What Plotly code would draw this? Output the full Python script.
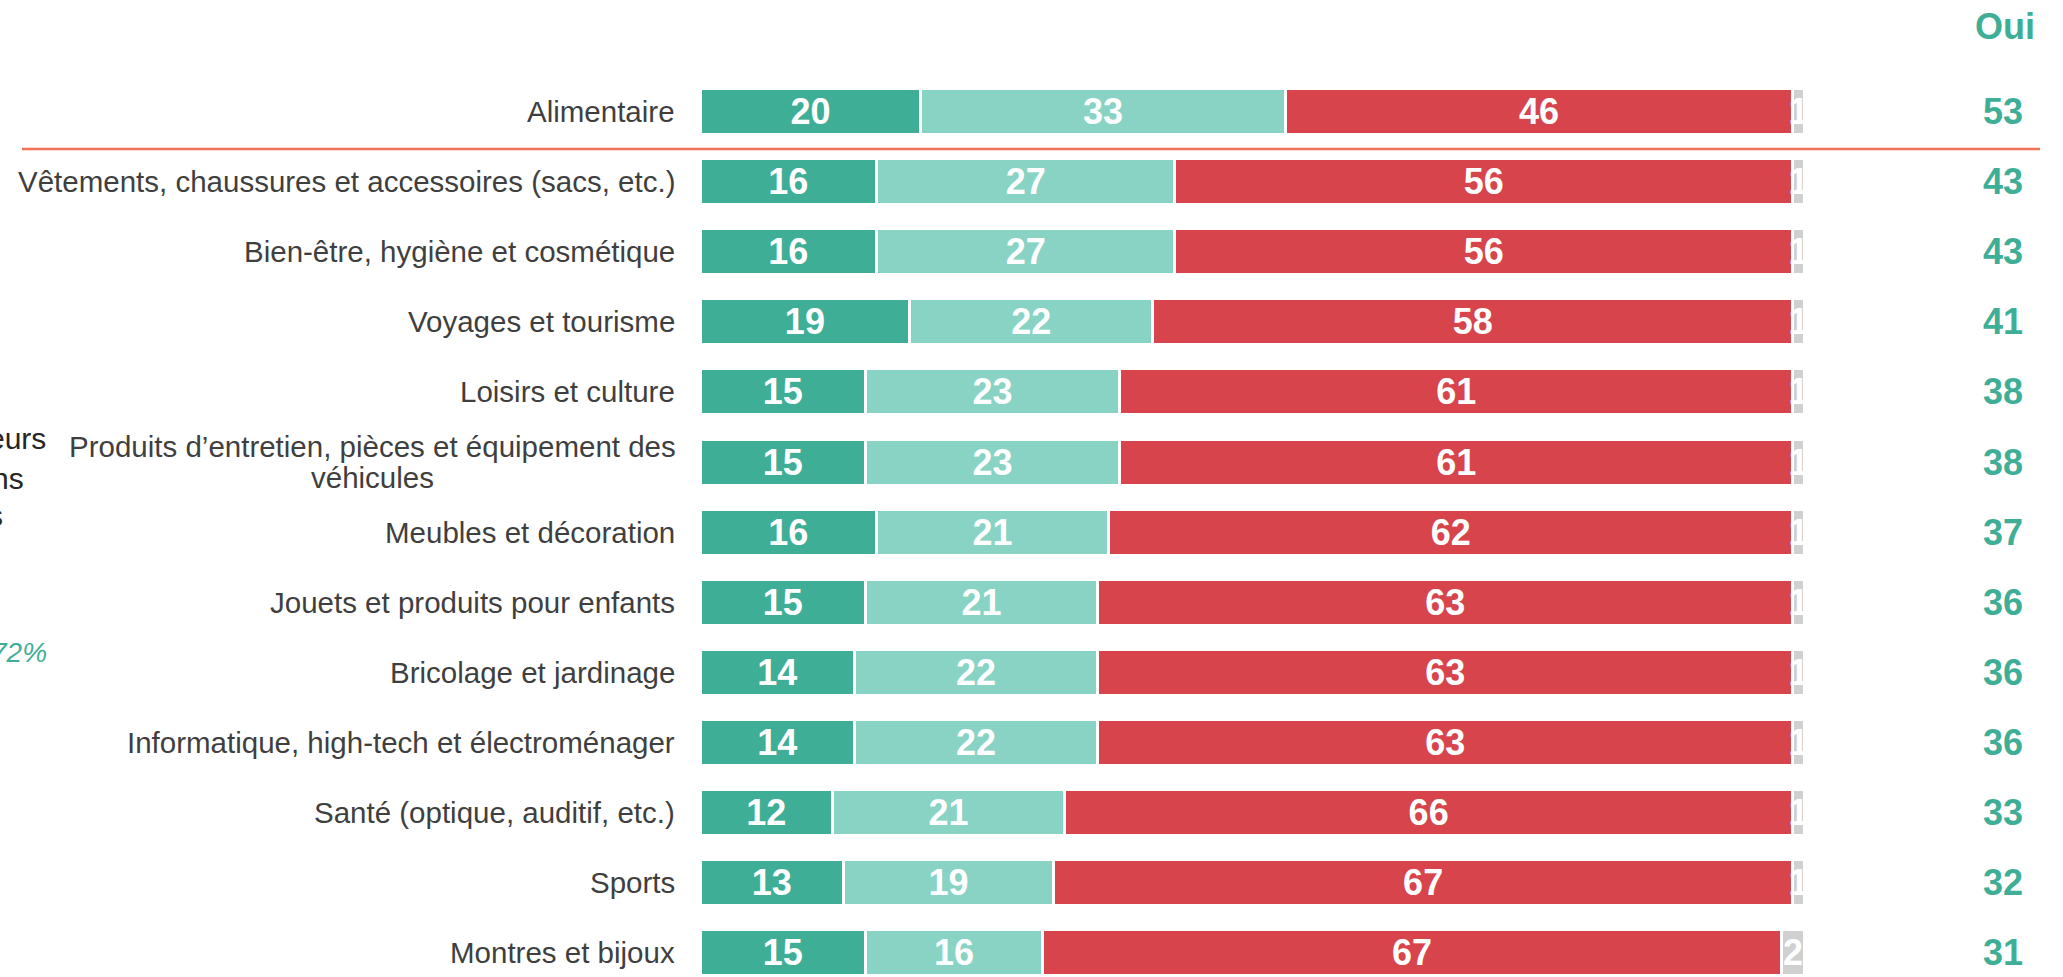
import plotly.graph_objects as go

categories = [
    "Alimentaire",
    "Vêtements, chaussures et accessoires (sacs, etc.)",
    "Bien-être, hygiène et cosmétique",
    "Voyages et tourisme",
    "Loisirs et culture",
    "Produits d’entretien, pièces et équipement des<br>véhicules",
    "Meubles et décoration",
    "Jouets et produits pour enfants",
    "Bricolage et jardinage",
    "Informatique, high-tech et électroménager",
    "Santé (optique, auditif, etc.)",
    "Sports",
    "Montres et bijoux",
]
serie_1 = [20, 16, 16, 19, 15, 15, 16, 15, 14, 14, 12, 13, 15]
serie_2 = [33, 27, 27, 22, 23, 23, 21, 21, 22, 22, 21, 19, 16]
serie_3 = [46, 56, 56, 58, 61, 61, 62, 63, 63, 63, 66, 67, 67]
serie_4 = [1, 1, 1, 1, 1, 1, 1, 1, 1, 1, 1, 1, 2]
oui = [53, 43, 43, 41, 38, 38, 37, 36, 36, 36, 33, 32, 31]
oui_header = "Oui"
left_fragments = ["eurs", "ns", "s"]
left_pct = "72%"

colors = ["#3FAE96", "#88D3C4", "#D7444B", "#D0D0D0"]
FONT = "Liberation Sans, Arial, sans-serif"

W, H = 2063, 977
L, PW = 700, 1104
ROW0, STEP = 111.5, 70.1

def px_to_paper_x(px):
    return (px - L) / PW

def px_to_paper_y(py):
    return 1 - py / H

ypos = list(range(len(categories)))

fig = go.Figure()
for vals, col in zip([serie_1, serie_2, serie_3, serie_4], colors):
    fig.add_trace(go.Bar(
        y=ypos, x=vals, orientation="h",
        marker=dict(color=col, line=dict(color="white", width=3)),
        text=vals, textposition="inside", insidetextanchor="middle",
        constraintext="none", textangle=0,
        textfont=dict(family=FONT, size=36, color="white", weight="bold"),
        hoverinfo="skip", showlegend=False,
    ))

annotations = []
LINE_GAP = 31.5
for i, cat in enumerate(categories):
    lines = cat.split("<br>")
    n = len(lines)
    for k, line in enumerate(lines):
        off = (k - (n - 1) / 2) * LINE_GAP
        annotations.append(dict(
            xref="paper", yref="y", x=0, y=i + off / STEP, xshift=-23,
            xanchor="right" if n == 1 else "center", yanchor="middle", align="center",
            text=line, showarrow=False,
            font=dict(family=FONT, size=29.5, color="#3F3F3F"),
        ))
    annotations.append(dict(
        xref="paper", yref="y", x=px_to_paper_x(2003), y=i,
        xanchor="center", yanchor="middle",
        text=str(oui[i]), showarrow=False,
        font=dict(family=FONT, size=36, color="#3FAE96", weight="bold"),
    ))

# centre the wrapped label lines on the first line's horizontal centre
for a in annotations:
    if a["xanchor"] == "center" and a["xref"] == "paper" and a["x"] == 0:
        a["x"] = px_to_paper_x(372)
        a["xshift"] = 0

annotations.append(dict(
    xref="paper", yref="paper", x=px_to_paper_x(2005), y=px_to_paper_y(27),
    xanchor="center", yanchor="middle", text=oui_header, showarrow=False,
    font=dict(family=FONT, size=36, color="#3FAE96", weight="bold"),
))

for txt, xr, yc in zip(left_fragments, [48, 26, 5], [438, 478, 515]):
    annotations.append(dict(
        xref="paper", yref="paper", x=px_to_paper_x(xr), y=px_to_paper_y(yc),
        xanchor="right", yanchor="middle", text=txt, showarrow=False,
        font=dict(family=FONT, size=30, color="#262626"),
    ))
annotations.append(dict(
    xref="paper", yref="paper", x=px_to_paper_x(49), y=px_to_paper_y(652),
    xanchor="right", yanchor="middle", text=f"<i>{left_pct}</i>", showarrow=False,
    font=dict(family=FONT, size=28, color="#3FAE96"),
))

shapes = [dict(
    type="line", xref="paper", yref="y",
    x0=px_to_paper_x(22), x1=px_to_paper_x(2040),
    y0=(149 - ROW0) / STEP, y1=(149 - ROW0) / STEP,
    line=dict(color="#F07256", width=2.5),
)]

y_top = -ROW0 / STEP
y_bot = (H - ROW0) / STEP

fig.update_layout(
    width=W, height=H,
    barmode="stack", bargap=1 - 46 / STEP,
    margin=dict(l=L, r=W - L - PW, t=0, b=0, pad=0),
    plot_bgcolor="white", paper_bgcolor="white",
    xaxis=dict(range=[0, 100], visible=False, fixedrange=True),
    yaxis=dict(range=[y_bot, y_top], visible=False, fixedrange=True),
    annotations=annotations, shapes=shapes,
    font=dict(family=FONT),
)

fig.write_html(
    "out.html",
    config={"displayModeBar": False},
    post_script="document.body.style.margin='0';document.body.style.overflow='hidden';",
)
